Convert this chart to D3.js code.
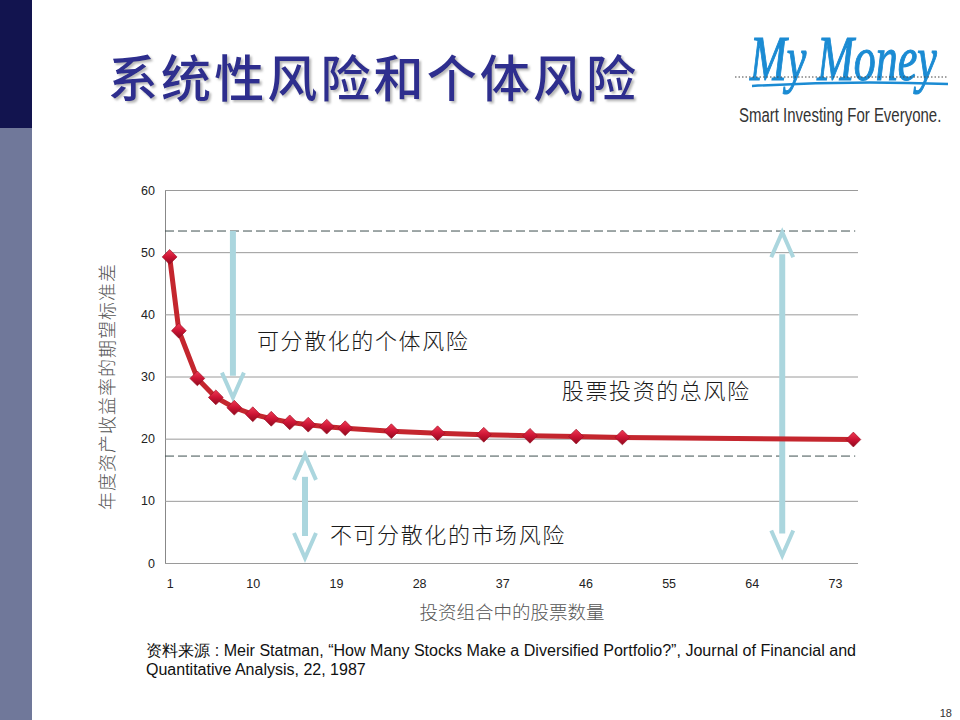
<!DOCTYPE html>
<html>
<head>
<meta charset="utf-8">
<script src="https://cdn.jsdelivr.net/npm/d3@7"></script>
<style>
  body { margin: 0; background: #fff; }
  svg { display: block; }
</style>
</head>
<body>
<svg id="chart" width="960" height="720"></svg>
<script>
// portfolio size (number of stocks) and expected std dev of annual return (%)
const stocks = [1, 2, 4, 6, 8, 10, 12, 14, 16, 18, 20, 25, 30, 35, 40, 45, 50, 75];
const stdDev = [49.24, 37.36, 29.69, 26.64, 24.98, 23.93, 23.20, 22.62, 22.25, 21.93, 21.68, 21.20, 20.87, 20.63, 20.46, 20.34, 20.20, 19.86];
const xTicks = [1, 10, 19, 28, 37, 46, 55, 64, 73];
const yTicks = [0, 10, 20, 30, 40, 50, 60];
const totalRiskLevel = 53.4;
const marketRiskLevel = 17.2;

const data = stocks.map((s, i) => ({n: s, v: stdDev[i]}));

const svg = d3.select('#chart');
const defs = svg.append('defs');

// left side bar of the slide
svg.append('rect').attr('x', 0).attr('y', 0).attr('width', 32).attr('height', 128).attr('fill', '#12144f');
svg.append('rect').attr('x', 0).attr('y', 128).attr('width', 32).attr('height', 592).attr('fill', '#70789a');

// title
defs.append('filter').attr('id', 'tshadow')
    .append('feDropShadow')
    .attr('dx', 2).attr('dy', 2).attr('stdDeviation', 1)
    .attr('flood-color', '#999').attr('flood-opacity', 0.7);

svg.append('text')
    .attr('x', 108).attr('y', 97)
    .attr('font-family', '"Noto Sans CJK SC", sans-serif')
    .attr('font-size', 50)
    .attr('font-weight', 500)
    .attr('fill', '#2d2f8e')
    .attr('filter', 'url(#tshadow)')
    .attr('textLength', 528)
    .attr('lengthAdjust', 'spacing')
    .text('系统性风险和个体风险');

// logo
const logo = svg.append('g');
logo.append('text')
    .attr('transform', 'translate(750,80) scale(1,1.45)')
    .attr('font-family', '"Liberation Serif", serif')
    .attr('font-style', 'italic')
    .attr('font-size', 44)
    .attr('fill', '#1b8bd3')
    .attr('stroke', '#1b8bd3').attr('stroke-width', 0.8)
    .text('My Money');
logo.append('line')
    .attr('x1', 735).attr('x2', 948).attr('y1', 77).attr('y2', 77)
    .attr('stroke', '#444').attr('stroke-width', 1).attr('stroke-dasharray', '1.5,2');
logo.append('path')
    .attr('d', 'M752,86 Q850,80 948,84')
    .attr('stroke', '#1b8bd3').attr('stroke-width', 2.5).attr('fill', 'none');
logo.append('text')
    .attr('transform', 'translate(739,122) scale(1,1.3)')
    .attr('font-family', '"Liberation Sans Narrow", "Liberation Sans", sans-serif')
    .attr('font-size', 15)
    .attr('fill', '#333')
    .text('Smart Investing For Everyone.');

// chart scales
const x = d3.scaleLinear().domain([0.5, 75.5]).range([165, 858]);
const y = d3.scaleLinear().domain([0, 60]).range([563, 190]);

const g = svg.append('g');

// gridlines + y labels
const yAxis = d3.axisLeft(y).tickValues(yTicks).tickSize(-(858 - 165)).tickPadding(10);
const gy = g.append('g').attr('transform', 'translate(165,0)').call(yAxis);
gy.select('.domain').attr('stroke', '#888');
gy.selectAll('.tick line').attr('stroke', '#9a9a9a');
gy.selectAll('.tick text')
    .attr('font-family', '"Liberation Sans", Arial, sans-serif')
    .attr('font-size', 12.5).attr('fill', '#222');

const xAxis = d3.axisBottom(x).tickValues(xTicks).tickSize(0).tickPadding(16);
const gx = g.append('g').attr('transform', 'translate(0,563)').call(xAxis);
gx.select('.domain').remove();
gx.selectAll('.tick text')
    .attr('font-family', '"Liberation Sans", Arial, sans-serif')
    .attr('font-size', 12.5).attr('fill', '#222');

// axis titles
g.append('text')
    .attr('transform', `translate(114,${(y(0) + y(60)) / 2 + 10}) rotate(-90)`)
    .attr('text-anchor', 'middle')
    .attr('font-family', '"Noto Sans CJK SC", sans-serif')
    .attr('font-size', 18).attr('font-weight', 300)
    .attr('letter-spacing', 1)
    .attr('fill', '#555')
    .text('年度资产收益率的期望标准差');
g.append('text')
    .attr('x', 512).attr('y', 619)
    .attr('text-anchor', 'middle')
    .attr('font-family', '"Noto Sans CJK SC", sans-serif')
    .attr('font-size', 18.5).attr('font-weight', 300)
    .attr('fill', '#555')
    .text('投资组合中的股票数量');

// dashed reference levels
[totalRiskLevel, marketRiskLevel].forEach(lv => {
    g.append('line')
        .attr('x1', x(0.5)).attr('x2', x(75.2))
        .attr('y1', y(lv)).attr('y2', y(lv))
        .attr('stroke', '#3f5050').attr('stroke-width', 1)
        .attr('stroke-dasharray', '9,4');
});

// annotation arrows (in data units)
const arrowColor = '#abd6de';
const arrows = [
    {x: 7.85, from: totalRiskLevel, to: 26.6, heads: ['end']},
    {x: 15.65, from: marketRiskLevel + 0.2, to: 0.8, heads: ['start', 'end']},
    {x: 67.3, from: totalRiskLevel - 0.2, to: 1.2, heads: ['start', 'end']}
];
arrows.forEach(a => {
    const ax = x(a.x), y1 = y(a.from), y2 = y(a.to);
    const dir = y2 > y1 ? 1 : -1;
    const headLen = 25, headW = 11;
    const s1 = a.heads.includes('start') ? y1 + dir * 22 : y1;
    const s2 = y2 - dir * 22;
    g.append('line')
        .attr('x1', ax).attr('x2', ax).attr('y1', s1).attr('y2', s2)
        .attr('stroke', arrowColor).attr('stroke-width', 6);
    const head = (tipY, d) => `M${ax - headW},${tipY - d * headLen}L${ax},${tipY}L${ax + headW},${tipY - d * headLen}`;
    g.append('path').attr('d', head(y2, dir))
        .attr('fill', 'none').attr('stroke', arrowColor).attr('stroke-width', 4);
    if (a.heads.includes('start')) {
        g.append('path').attr('d', head(y1, -dir))
            .attr('fill', 'none').attr('stroke', arrowColor).attr('stroke-width', 4);
    }
});

// annotation text
const notes = [
    {t: '可分散化的个体风险', x: 10.45, v: 34.4},
    {t: '股票投资的总风险', x: 43.45, v: 26.4},
    {t: '不可分散化的市场风险', x: 18.35, v: 3.2}
];
g.selectAll('.note').data(notes).enter().append('text')
    .attr('class', 'note')
    .attr('x', d => x(d.x)).attr('y', d => y(d.v))
    .attr('font-family', '"Noto Sans CJK SC", sans-serif')
    .attr('font-size', 22).attr('font-weight', 300)
    .attr('letter-spacing', 1.6)
    .attr('fill', '#1a1a1a')
    .text(d => d.t);

// data line
const grad = defs.append('linearGradient').attr('id', 'dgrad')
    .attr('x1', '0').attr('y1', '0').attr('x2', '1').attr('y2', '1');
grad.append('stop').attr('offset', '0%').attr('stop-color', '#ef3b55');
grad.append('stop').attr('offset', '50%').attr('stop-color', '#cc1434');
grad.append('stop').attr('offset', '100%').attr('stop-color', '#8e0a1e');

const line = d3.line().x(d => x(d.n)).y(d => y(d.v));
g.append('path').datum(data)
    .attr('d', line)
    .attr('fill', 'none')
    .attr('stroke', '#c4262e')
    .attr('stroke-width', 5)
    .attr('stroke-linejoin', 'round');

const diamond = d3.symbol().type(d3.symbolSquare).size(110);
g.selectAll('.pt').data(data).enter().append('path')
    .attr('class', 'pt')
    .attr('d', diamond)
    .attr('transform', d => `translate(${x(d.n)},${y(d.v)}) rotate(45)`)
    .attr('fill', 'url(#dgrad)')
    .attr('stroke', '#9a0c22').attr('stroke-width', 0.6);

// source note
const src = svg.append('text')
    .attr('font-family', '"Liberation Sans Narrow", "Liberation Sans", sans-serif')
    .attr('font-size', 16).attr('fill', '#111');
src.append('tspan').attr('x', 146).attr('y', 656)
    .attr('textLength', 710).attr('lengthAdjust', 'spacingAndGlyphs')
    .text('资料来源 : Meir Statman, “How Many Stocks Make a Diversified Portfolio?”, Journal of Financial and');
src.append('tspan').attr('x', 146).attr('y', 675)
    .text('Quantitative Analysis, 22, 1987');

svg.append('text')
    .attr('x', 952).attr('y', 717)
    .attr('text-anchor', 'end')
    .attr('font-family', '"Liberation Sans", Arial, sans-serif')
    .attr('font-size', 11).attr('fill', '#333')
    .text('18');
</script>
</body>
</html>
